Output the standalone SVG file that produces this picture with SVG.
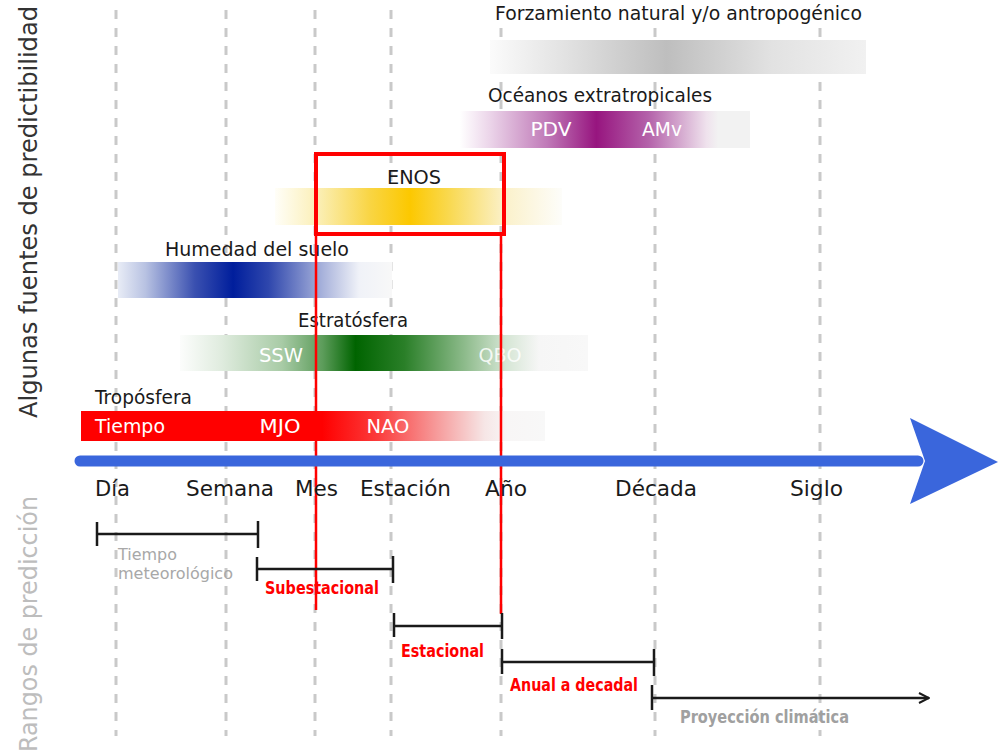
<svg xmlns="http://www.w3.org/2000/svg" width="998" height="754" viewBox="0 0 998 754">
<defs>
<style>
text{font-family:"DejaVu Sans","Open Sans",sans-serif;}
.grid{stroke:#c9c9c9;stroke-width:3;stroke-dasharray:9 9;fill:none;}
.lbl{font-size:19px;fill:#1a1a1a;}
.in{font-size:19px;fill:#ffffff;}
.ax{font-size:21px;fill:#1a1a1a;}
.br{stroke:#1a1a1a;stroke-width:2.5;fill:none;}
.rl{font-size:17px;font-weight:bold;fill:#ff0000;}
.side{font-size:24px;}
.red{stroke:#ff0000;fill:none;}
</style>
<linearGradient id="gGray" x1="0" x2="1" y1="0" y2="0">
<stop offset="0" stop-color="#fbfbfb"/><stop offset="0.2" stop-color="#e2e2e2"/><stop offset="0.47" stop-color="#bebebe"/><stop offset="0.75" stop-color="#e2e2e2"/><stop offset="1" stop-color="#f1f1f1"/>
</linearGradient>
<linearGradient id="gPurple" x1="0" x2="1" y1="0" y2="0">
<stop offset="0" stop-color="#ffffff"/><stop offset="0.1" stop-color="#ecd6ea"/><stop offset="0.3" stop-color="#c07ab8"/><stop offset="0.47" stop-color="#97157f"/><stop offset="0.65" stop-color="#b462aa"/><stop offset="0.85" stop-color="#efe2ed"/><stop offset="0.89" stop-color="#f2f2f2"/><stop offset="1" stop-color="#f2f2f2"/>
</linearGradient>
<linearGradient id="gYellow" x1="0" x2="1" y1="0" y2="0">
<stop offset="0" stop-color="#fffef8"/><stop offset="0.15" stop-color="#fbefb6"/><stop offset="0.33" stop-color="#f9d544"/><stop offset="0.47" stop-color="#fcc800"/><stop offset="0.6" stop-color="#f9d84c"/><stop offset="0.8" stop-color="#fbf1ca"/><stop offset="1" stop-color="#fdfdfa"/>
</linearGradient>
<linearGradient id="gBlue" x1="0" x2="1" y1="0" y2="0">
<stop offset="0" stop-color="#e8ecf6"/><stop offset="0.1" stop-color="#b8c2e2"/><stop offset="0.28" stop-color="#3a50b0"/><stop offset="0.42" stop-color="#001e9c"/><stop offset="0.55" stop-color="#2f47ad"/><stop offset="0.75" stop-color="#aab4dc"/><stop offset="0.88" stop-color="#f0f2f8"/><stop offset="1" stop-color="#f8f8f8"/>
</linearGradient>
<linearGradient id="gGreen" x1="0" x2="1" y1="0" y2="0">
<stop offset="0" stop-color="#fcfdfc"/><stop offset="0.1" stop-color="#e0ecdf"/><stop offset="0.25" stop-color="#a8cba6"/><stop offset="0.35" stop-color="#5c9c5a"/><stop offset="0.43" stop-color="#006400"/><stop offset="0.55" stop-color="#2a7f28"/><stop offset="0.7" stop-color="#8fbc8d"/><stop offset="0.8" stop-color="#d6e6d5"/><stop offset="0.88" stop-color="#f6f6f6"/><stop offset="1" stop-color="#f8f8f8"/>
</linearGradient>
<linearGradient id="gRed" x1="0" x2="1" y1="0" y2="0">
<stop offset="0" stop-color="#ff0000"/><stop offset="0.52" stop-color="#ff0000"/><stop offset="0.64" stop-color="#fb3c3c"/><stop offset="0.76" stop-color="#f69696"/><stop offset="0.87" stop-color="#f6e6e6"/><stop offset="0.92" stop-color="#f8f6f6"/><stop offset="1" stop-color="#f8f8f8"/>
</linearGradient>
<marker id="open" viewBox="0 0 10 10" refX="9" refY="5" markerWidth="5" markerHeight="5" orient="auto" markerUnits="strokeWidth">
<polyline points="1,1 9,5 1,9" fill="none" stroke="#1a1a1a" stroke-width="1.6"/>
</marker>
</defs>
<rect width="998" height="754" fill="#ffffff"/>

<g id="gridlines">
<line class="grid" x1="116" y1="10" x2="116" y2="736"/>
<line class="grid" x1="226" y1="10" x2="226" y2="736"/>
<line class="grid" x1="315" y1="10" x2="315" y2="736"/>
<line class="grid" x1="391" y1="10" x2="391" y2="736"/>
<line class="grid" x1="501" y1="28" x2="501" y2="736"/>
<line class="grid" x1="655" y1="28" x2="655" y2="736"/>
<line class="grid" x1="820" y1="28" x2="820" y2="736"/>
</g>

<g id="side-labels">
<text class="side" fill="#333333" text-anchor="middle" transform="translate(37,212) rotate(-90)" textLength="412" lengthAdjust="spacingAndGlyphs">Algunas fuentes de predictibilidad</text>
<text class="side" fill="#bdbdbd" text-anchor="middle" transform="translate(37,624) rotate(-90)" textLength="256" lengthAdjust="spacingAndGlyphs">Rangos de predicción</text>
</g>

<g id="forzamiento">
<rect x="490" y="40" width="376" height="34" fill="url(#gGray)"/>
<text class="lbl" x="495" y="20" textLength="367" lengthAdjust="spacingAndGlyphs">Forzamiento natural y/o antropogénico</text>
</g>

<g id="oceanos">
<rect x="460" y="111" width="290" height="37" fill="url(#gPurple)"/>
<text class="lbl" x="488" y="102" textLength="224" lengthAdjust="spacingAndGlyphs">Océanos extratropicales</text>
<text class="in" x="551" y="136" text-anchor="middle" textLength="41" lengthAdjust="spacingAndGlyphs">PDV</text>
<text class="in" x="662" y="136" text-anchor="middle" textLength="40" lengthAdjust="spacingAndGlyphs">AMv</text>
</g>

<g id="enos">
<rect x="275" y="188" width="287" height="37" fill="url(#gYellow)"/>
<text class="lbl" x="414" y="184" text-anchor="middle" textLength="54" lengthAdjust="spacingAndGlyphs">ENOS</text>
</g>

<g id="humedad">
<rect x="118" y="262" width="274" height="36" fill="url(#gBlue)"/>
<text class="lbl" x="165" y="256" textLength="184" lengthAdjust="spacingAndGlyphs">Humedad del suelo</text>
</g>

<g id="estratosfera">
<rect x="180" y="335" width="408" height="36" fill="url(#gGreen)"/>
<text class="lbl" x="353" y="327" text-anchor="middle" textLength="110" lengthAdjust="spacingAndGlyphs">Estratósfera</text>
<text class="in" x="281" y="362" text-anchor="middle" textLength="44" lengthAdjust="spacingAndGlyphs">SSW</text>
<text class="in" x="500" y="362" text-anchor="middle" fill-opacity="0.85" textLength="43" lengthAdjust="spacingAndGlyphs">QBO</text>
</g>

<g id="troposfera">
<rect x="81" y="411" width="464" height="30" fill="url(#gRed)"/>
<text class="lbl" x="95" y="404" textLength="97" lengthAdjust="spacingAndGlyphs">Tropósfera</text>
<text class="in" x="95" y="433" textLength="70" lengthAdjust="spacingAndGlyphs">Tiempo</text>
<text class="in" x="280" y="433" text-anchor="middle" textLength="41" lengthAdjust="spacingAndGlyphs">MJO</text>
<text class="in" x="388" y="433" text-anchor="middle" textLength="43" lengthAdjust="spacingAndGlyphs">NAO</text>
</g>

<g id="highlight">
<rect class="red" x="316" y="154" width="188" height="80" stroke-width="4"/>
<line class="red" x1="316" y1="234" x2="316" y2="610" stroke-width="2.5"/>
<line class="red" x1="501" y1="234" x2="501" y2="614" stroke-width="2.5"/>
</g>

<g id="time-axis">
<line x1="80" y1="461" x2="918" y2="461" stroke="#3a66dc" stroke-width="11" stroke-linecap="round"/>
<polygon points="910,418 998,462 910,504 925,461" fill="#3a66dc"/>
<text class="ax" x="95" y="496" textLength="35" lengthAdjust="spacingAndGlyphs">Día</text>
<text class="ax" x="186" y="496" textLength="88" lengthAdjust="spacingAndGlyphs">Semana</text>
<text class="ax" x="295" y="496" textLength="43" lengthAdjust="spacingAndGlyphs">Mes</text>
<text class="ax" x="360" y="496" textLength="91" lengthAdjust="spacingAndGlyphs">Estación</text>
<text class="ax" x="485" y="496" textLength="42" lengthAdjust="spacingAndGlyphs">Año</text>
<text class="ax" x="615" y="496" textLength="82" lengthAdjust="spacingAndGlyphs">Década</text>
<text class="ax" x="790" y="496" textLength="53" lengthAdjust="spacingAndGlyphs">Siglo</text>
</g>

<g id="connectors">
<g id="r-tiempo">
<path class="br" d="M97,522 V546 M97,534 H258 M258,521 V548"/>
<text x="118" y="560" font-size="15" fill="#a8a8a8" textLength="59" lengthAdjust="spacingAndGlyphs">Tiempo</text>
<text x="118" y="579" font-size="15" fill="#a8a8a8" textLength="115" lengthAdjust="spacingAndGlyphs">meteorológico</text>
</g>
<g id="r-subestacional">
<path class="br" d="M257,557 V581 M257,569 H393 M393,556 V583"/>
<text class="rl" x="265" y="594" textLength="114" lengthAdjust="spacingAndGlyphs">Subestacional</text>
</g>
<g id="r-estacional">
<path class="br" d="M394,613 V637 M394,626 H502 M502,613 V639"/>
<text class="rl" x="401" y="657" textLength="83" lengthAdjust="spacingAndGlyphs">Estacional</text>
</g>
<g id="r-anual">
<path class="br" d="M502,649 V674 M502,662 H654 M654,649 V676"/>
<text class="rl" x="510" y="691" textLength="128" lengthAdjust="spacingAndGlyphs">Anual a decadal</text>
</g>
<g id="r-proyeccion">
<path class="br" d="M652,685 V710"/>
<line class="br" x1="652" y1="698" x2="929" y2="698" marker-end="url(#open)"/>
<text x="680" y="723" font-size="17" font-weight="bold" fill="#a0a0a0" textLength="169" lengthAdjust="spacingAndGlyphs">Proyección climática</text>
</g>
</g>
</svg>
